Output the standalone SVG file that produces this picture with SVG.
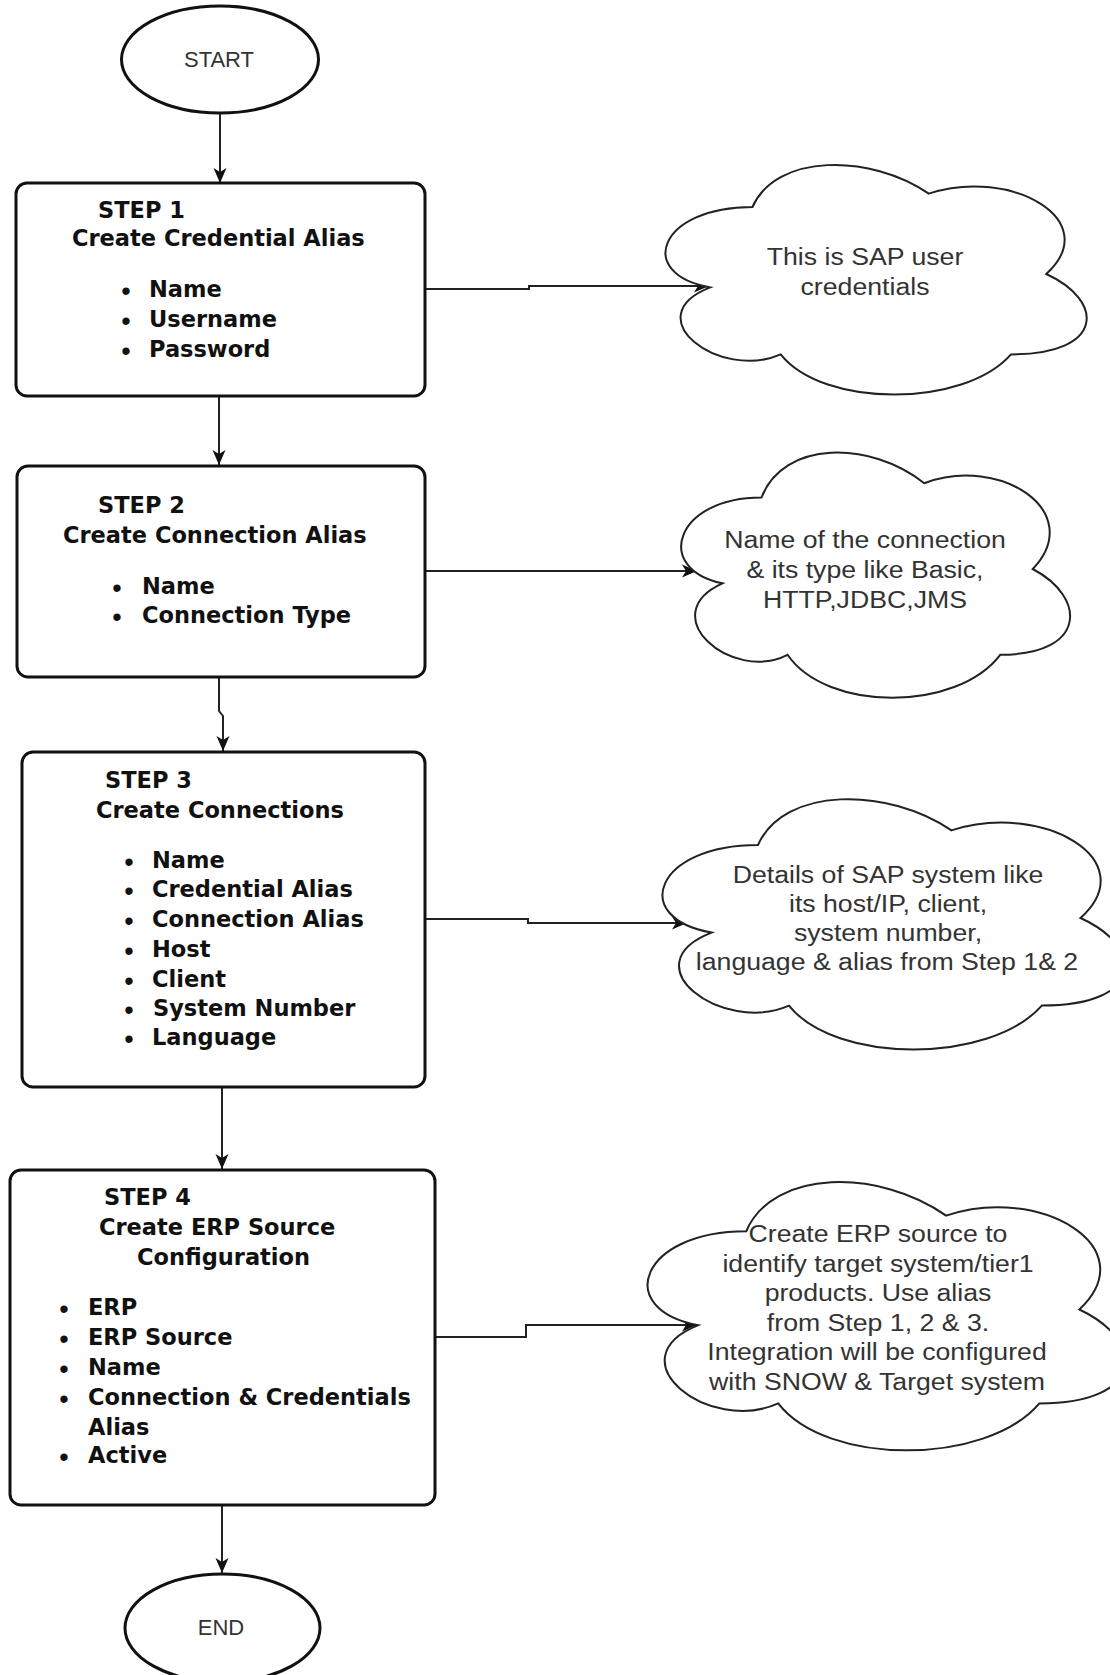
<svg xmlns="http://www.w3.org/2000/svg" width="1110" height="1675" viewBox="0 0 1110 1675">
<style>
  .term { fill: #fff; stroke: #111; stroke-width: 3; }
  .box { fill: #fff; stroke: #111; stroke-width: 3; }
  .cloud { fill: #fff; stroke: #222; stroke-width: 2; }
  .tt { font-family: "Liberation Sans", Arial, sans-serif; font-size: 22px; fill: #333; text-anchor: middle; }
  .bt { font-family: "DejaVu Sans", Verdana, sans-serif; font-weight: bold; font-size: 22.5px; fill: #111; }
  .bul { font-family: "Liberation Sans", Arial, sans-serif; font-size: 27px; fill: #111; text-anchor: middle; }
  .ct { font-family: "Liberation Sans", Arial, sans-serif; font-size: 23px; fill: #333; text-anchor: middle; }
  .conn { fill: none; stroke: #222; stroke-width: 2; marker-end: url(#arrow); }
</style>
<defs>
  <marker id="arrow" markerUnits="userSpaceOnUse" markerWidth="16" markerHeight="15" refX="15" refY="7.5" orient="auto">
    <path d="M0,1 L15,7.5 L0,14 L4,7.5 Z" fill="#111"/>
  </marker>
</defs>
<rect width="1110" height="1675" fill="#fff"/>

<g id="connectors">
  <path class="conn" d="M220,113 V183"/>
  <path class="conn" d="M424,289 H529 V286 H709"/>
  <path class="conn" d="M219,396 V465"/>
  <path class="conn" d="M424,571 H697"/>
  <path class="conn" d="M219,677 V711 L223,716 V751"/>
  <path class="conn" d="M425,919 H528 V923 H687"/>
  <path class="conn" d="M222,1087 V1169"/>
  <path class="conn" d="M435,1337 H526 V1325 H697"/>
  <path class="conn" d="M222,1505 V1573"/>
</g>

<g id="start">
  <ellipse class="term" cx="220" cy="59.5" rx="98.5" ry="53.5"/>
  <text class="tt" x="219" y="67">START</text>
</g>

<g id="step1">
  <rect class="box" x="16" y="183" width="409" height="213" rx="11"/>
  <text class="bt" x="98" y="218">STEP 1</text>
  <text class="bt" x="72" y="246">Create Credential Alias</text>
  <text class="bul" x="126" y="300">•</text>
  <text class="bt" x="149" y="297">Name</text>
  <text class="bul" x="126" y="330">•</text>
  <text class="bt" x="149" y="327">Username</text>
  <text class="bul" x="126" y="360">•</text>
  <text class="bt" x="149" y="357">Password</text>
</g>

<g id="cloud1">
  <path class="cloud" d="M752.5,207 C658.5,207 635,274 710.2,287.4 C635,316.88 719.6,381.2 780.7,354.4 C823,408 964,408 1011,354.4 C1105,354.4 1105,300.8 1046.25,274 C1105,220.4 1011,166.8 928.75,193.6 C870,153.4 776,153.4 752.5,207 Z"/>
  <text class="ct" transform="translate(865,265) scale(1.16,1)">This is SAP user</text>
  <text class="ct" transform="translate(865,295) scale(1.16,1)">credentials</text>
</g>

<g id="step2">
  <rect class="box" x="17" y="466" width="408" height="211" rx="11"/>
  <text class="bt" x="98" y="513">STEP 2</text>
  <text class="bt" x="63" y="543">Create Connection Alias</text>
  <text class="bul" x="117" y="597">•</text>
  <text class="bt" x="142" y="594">Name</text>
  <text class="bul" x="117" y="626">•</text>
  <text class="bt" x="142" y="623">Connection Type</text>
</g>

<g id="cloud2">
  <path class="cloud" d="M761.5,497.5 C674.7,497.5 653,569 722.44,583.3 C653,614.76 731.12,683.4 787.54,654.8 C826.6,712 956.8,712 1000.2,654.8 C1087,654.8 1087,597.6 1032.75,569 C1087,511.8 1000.2,454.6 924.25,483.2 C870,440.3 783.2,440.3 761.5,497.5 Z"/>
  <text class="ct" transform="translate(865,548) scale(1.16,1)">Name of the connection</text>
  <text class="ct" transform="translate(865,578) scale(1.16,1)">&amp; its type like Basic,</text>
  <text class="ct" transform="translate(865,608) scale(1.16,1)">HTTP,JDBC,JMS</text>
</g>

<g id="step3">
  <rect class="box" x="22" y="752" width="403" height="335" rx="11"/>
  <text class="bt" x="105" y="788">STEP 3</text>
  <text class="bt" x="96" y="818">Create Connections</text>
  <text class="bul" x="129" y="871">•</text>
  <text class="bt" x="152" y="868">Name</text>
  <text class="bul" x="129" y="900">•</text>
  <text class="bt" x="152" y="897">Credential Alias</text>
  <text class="bul" x="129" y="930">•</text>
  <text class="bt" x="152" y="927">Connection Alias</text>
  <text class="bul" x="129" y="960">•</text>
  <text class="bt" x="152" y="957">Host</text>
  <text class="bul" x="129" y="990">•</text>
  <text class="bt" x="152" y="987">Client</text>
  <text class="bul" x="129" y="1019">•</text>
  <text class="bt" x="153" y="1016">System Number</text>
  <text class="bul" x="129" y="1048">•</text>
  <text class="bt" x="152" y="1045">Language</text>
</g>

<g id="cloud3">
  <path class="cloud" d="M758,845 C654.8,845 629,918 711.56,932.6 C629,964.72 721.88,1034.8 788.96,1005.6 C835.4,1064 990.2,1064 1041.8,1005.6 C1145,1005.6 1145,947.2 1080.5,918 C1145,859.6 1041.8,801.2 951.5,830.4 C887,786.6 783.8,786.6 758,845 Z"/>
  <text class="ct" transform="translate(888,883) scale(1.16,1)">Details of SAP system like</text>
  <text class="ct" transform="translate(888,912) scale(1.16,1)">its host/IP, client,</text>
  <text class="ct" transform="translate(888,941) scale(1.16,1)">system number,</text>
  <text class="ct" transform="translate(887,970) scale(1.16,1)">language &amp; alias from Step 1&amp; 2</text>
</g>

<g id="step4">
  <rect class="box" x="10" y="1170" width="425" height="335" rx="11"/>
  <text class="bt" x="104" y="1205">STEP 4</text>
  <text class="bt" x="99" y="1235">Create ERP Source</text>
  <text class="bt" x="137" y="1265">Configuration</text>
  <text class="bul" x="64" y="1318">•</text>
  <text class="bt" x="88" y="1315">ERP</text>
  <text class="bul" x="64" y="1348">•</text>
  <text class="bt" x="88" y="1345">ERP Source</text>
  <text class="bul" x="64" y="1378">•</text>
  <text class="bt" x="88" y="1375">Name</text>
  <text class="bul" x="64" y="1408">•</text>
  <text class="bt" x="88" y="1405">Connection &amp; Credentials</text>
  <text class="bt" x="88" y="1435">Alias</text>
  <text class="bul" x="64" y="1466">•</text>
  <text class="bt" x="88" y="1463">Active</text>
</g>

<g id="cloud4">
  <path class="cloud" d="M746.25,1231.25 C639.65,1231.25 613,1309.5 698.28,1325.15 C613,1359.58 708.94,1434.7 778.23,1403.4 C826.2,1466 986.1,1466 1039.4,1403.4 C1146,1403.4 1146,1340.8 1079.375,1309.5 C1146,1246.9 1039.4,1184.3 946.125,1215.6 C879.5,1168.65 772.9,1168.65 746.25,1231.25 Z"/>
  <text class="ct" transform="translate(878,1242) scale(1.16,1)">Create ERP source to</text>
  <text class="ct" transform="translate(878,1272) scale(1.16,1)">identify target system/tier1</text>
  <text class="ct" transform="translate(878,1301) scale(1.16,1)">products. Use alias</text>
  <text class="ct" transform="translate(878,1331) scale(1.16,1)">from Step 1, 2 &amp; 3.</text>
  <text class="ct" transform="translate(877,1360) scale(1.16,1)">Integration will be configured</text>
  <text class="ct" transform="translate(877,1390) scale(1.16,1)">with SNOW &amp; Target system</text>
</g>

<g id="end">
  <ellipse class="term" cx="222.5" cy="1628" rx="97.5" ry="54"/>
  <text class="tt" x="221" y="1635">END</text>
</g>
</svg>
